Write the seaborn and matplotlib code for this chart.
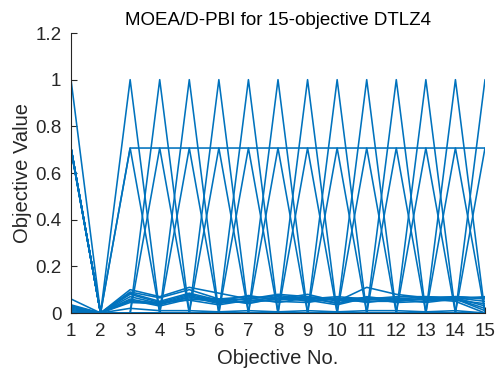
import numpy as np
import pandas as pd
import matplotlib
matplotlib.use("Agg")
import matplotlib.pyplot as plt
import seaborn as sns

objectives = list(range(1, 16))
ytick_values = [0, 0.2, 0.4, 0.6, 0.8, 1.0, 1.2]
ytick_labels = ["0", "0.2", "0.4", "0.6", "0.8", "1", "1.2"]

# Extreme solutions: value 1 at one objective, 0 elsewhere
extreme_1 = [1, 0, 0, 0, 0, 0, 0, 0, 0, 0, 0, 0, 0, 0, 0]
extreme_3 = [0, 0, 1, 0, 0, 0, 0, 0, 0, 0, 0, 0, 0, 0, 0]
extreme_4 = [0, 0, 0, 1, 0, 0, 0, 0, 0, 0, 0, 0, 0, 0, 0]
extreme_5 = [0, 0, 0, 0, 1, 0, 0, 0, 0, 0, 0, 0, 0, 0, 0]
extreme_6 = [0, 0, 0, 0, 0, 1, 0, 0, 0, 0, 0, 0, 0, 0, 0]
extreme_7 = [0, 0, 0, 0, 0, 0, 1, 0, 0, 0, 0, 0, 0, 0, 0]
extreme_8 = [0, 0, 0, 0, 0, 0, 0, 1, 0, 0, 0, 0, 0, 0, 0]
extreme_9 = [0, 0, 0, 0, 0, 0, 0, 0, 1, 0, 0, 0, 0, 0, 0]
extreme_10 = [0, 0, 0, 0, 0, 0, 0, 0, 0, 1, 0, 0, 0, 0, 0]
extreme_11 = [0, 0, 0, 0, 0, 0, 0, 0, 0, 0, 1, 0, 0, 0, 0]
extreme_12 = [0, 0, 0, 0, 0, 0, 0, 0, 0, 0, 0, 1, 0, 0, 0]
extreme_13 = [0, 0, 0, 0, 0, 0, 0, 0, 0, 0, 0, 0, 1, 0, 0]
extreme_14 = [0, 0, 0, 0, 0, 0, 0, 0, 0, 0, 0, 0, 0, 1, 0]
extreme_15 = [0, 0, 0, 0, 0, 0, 0, 0, 0, 0, 0, 0, 0, 0, 1]

# Two-objective solutions: 0.707 at objective 1 and at objective k
pair_3 = [0.707, 0, 0.707, 0, 0, 0, 0, 0, 0, 0, 0, 0, 0, 0, 0]
pair_4 = [0.707, 0, 0, 0.707, 0, 0, 0, 0, 0, 0, 0, 0, 0, 0, 0]
pair_5 = [0.707, 0, 0, 0, 0.707, 0, 0, 0, 0, 0, 0, 0, 0, 0, 0]
pair_6 = [0.707, 0, 0, 0, 0, 0.707, 0, 0, 0, 0, 0, 0, 0, 0, 0]
pair_7 = [0.707, 0, 0, 0, 0, 0, 0.707, 0, 0, 0, 0, 0, 0, 0, 0]
pair_8 = [0.707, 0, 0, 0, 0, 0, 0, 0.707, 0, 0, 0, 0, 0, 0, 0]
pair_9 = [0.707, 0, 0, 0, 0, 0, 0, 0, 0.707, 0, 0, 0, 0, 0, 0]
pair_10 = [0.707, 0, 0, 0, 0, 0, 0, 0, 0, 0.707, 0, 0, 0, 0, 0]
pair_11 = [0.707, 0, 0, 0, 0, 0, 0, 0, 0, 0, 0.707, 0, 0, 0, 0]
pair_12 = [0.707, 0, 0, 0, 0, 0, 0, 0, 0, 0, 0, 0.707, 0, 0, 0]
pair_13 = [0.700, 0, 0, 0, 0, 0, 0, 0, 0, 0, 0, 0, 0.707, 0, 0]
pair_14 = [0.700, 0, 0, 0, 0, 0, 0, 0, 0, 0, 0, 0, 0, 0.707, 0]
pair_15 = [0.700, 0, 0, 0, 0, 0, 0, 0, 0, 0, 0, 0, 0, 0, 0.707]

# Flat solution at 0.707 over objectives 3-15
flat = [0, 0, 0.707, 0.707, 0.707, 0.707, 0.707, 0.707, 0.707, 0.707, 0.707, 0.707, 0.707, 0.707, 0.707]

# Near-zero band of solutions
low_a = [0.060, 0, 0.100, 0.070, 0.110, 0.085, 0.060, 0.080, 0.070, 0.060, 0.065, 0.060, 0.070, 0.060, 0.070]
low_b = [0.035, 0, 0.090, 0.065, 0.100, 0.060, 0.070, 0.060, 0.080, 0.050, 0.110, 0.080, 0.065, 0.070, 0.060]
low_c = [0.030, 0, 0.085, 0.050, 0.085, 0.055, 0.060, 0.075, 0.060, 0.070, 0.060, 0.070, 0.070, 0.065, 0.050]
low_d = [0.025, 0, 0.080, 0.045, 0.080, 0.050, 0.075, 0.055, 0.070, 0.040, 0.070, 0.055, 0.060, 0.070, 0.065]
low_e = [0.020, 0, 0.070, 0.040, 0.075, 0.045, 0.050, 0.070, 0.050, 0.060, 0.055, 0.065, 0.055, 0.060, 0.020]
low_f = [0.015, 0, 0.060, 0.035, 0.070, 0.040, 0.065, 0.045, 0.065, 0.055, 0.050, 0.050, 0.065, 0.055, 0.040]
low_g = [0.010, 0, 0.055, 0.030, 0.060, 0.050, 0.045, 0.060, 0.055, 0.035, 0.065, 0.045, 0.050, 0.065, 0.030]
low_h = [0.005, 0, 0.050, 0.045, 0.055, 0.035, 0.055, 0.050, 0.045, 0.065, 0.045, 0.060, 0.045, 0.060, 0.010]
low_i = [0, 0, 0.045, 0.040, 0.065, 0.060, 0.040, 0.065, 0.060, 0.045, 0.060, 0.050, 0.060, 0.050, 0]
low_j = [0, 0, 0.020, 0.010, 0.010, 0.005, 0.010, 0.005, 0.010, 0.005, 0.010, 0.010, 0.005, 0.010, 0]
zero = [0, 0, 0, 0, 0, 0, 0, 0, 0, 0, 0, 0, 0, 0, 0]

solutions = [
    extreme_1, extreme_3, extreme_4, extreme_5, extreme_6, extreme_7, extreme_8,
    extreme_9, extreme_10, extreme_11, extreme_12, extreme_13, extreme_14, extreme_15,
    pair_3, pair_4, pair_5, pair_6, pair_7, pair_8, pair_9, pair_10, pair_11,
    pair_12, pair_13, pair_14, pair_15, flat,
    low_a, low_b, low_c, low_d, low_e, low_f, low_g, low_h, low_i, low_j, zero,
]

rows = []
for sid, vals in enumerate(solutions):
    for obj, v in zip(objectives, vals):
        rows.append({"id": sid, "obj": obj, "val": v})
df = pd.DataFrame(rows)

sns.set_theme(style="white")
plt.rcParams["font.family"] = ["Liberation Sans", "DejaVu Sans"]

fig = plt.figure(figsize=(5.0, 3.76), dpi=100)
ax = fig.add_axes([71 / 500, 1 - 313 / 376, (485 - 71) / 500, (313 - 33) / 376])

sns.lineplot(data=df, x="obj", y="val", units="id", estimator=None,
             color="#0072BD", linewidth=1.15, ax=ax, legend=False)

ax.set_xlim(1, 15)
ax.set_ylim(0, 1.2)
ax.set_xticks(objectives)
ax.set_xticklabels([str(o) for o in objectives])
ax.set_yticks(ytick_values)
ax.set_yticklabels(ytick_labels)

dark = "#262626"
for side in ["top", "right"]:
    ax.spines[side].set_visible(False)
for side in ["left", "bottom"]:
    ax.spines[side].set_color(dark)
    ax.spines[side].set_linewidth(0.8)
ax.tick_params(axis="both", direction="in", length=4, width=0.8, colors=dark,
               labelsize=13.5, pad=7, left=True, bottom=True)

ax.set_xlabel("Objective No.", fontsize=14.5, color=dark, labelpad=7)
ax.set_ylabel("Objective Value", fontsize=14.5, color=dark, labelpad=2)
ax.set_title("MOEA/D-PBI for 15-objective DTLZ4", fontsize=13.5, color="black", pad=6)

fig.savefig("out.png", dpi=100)
